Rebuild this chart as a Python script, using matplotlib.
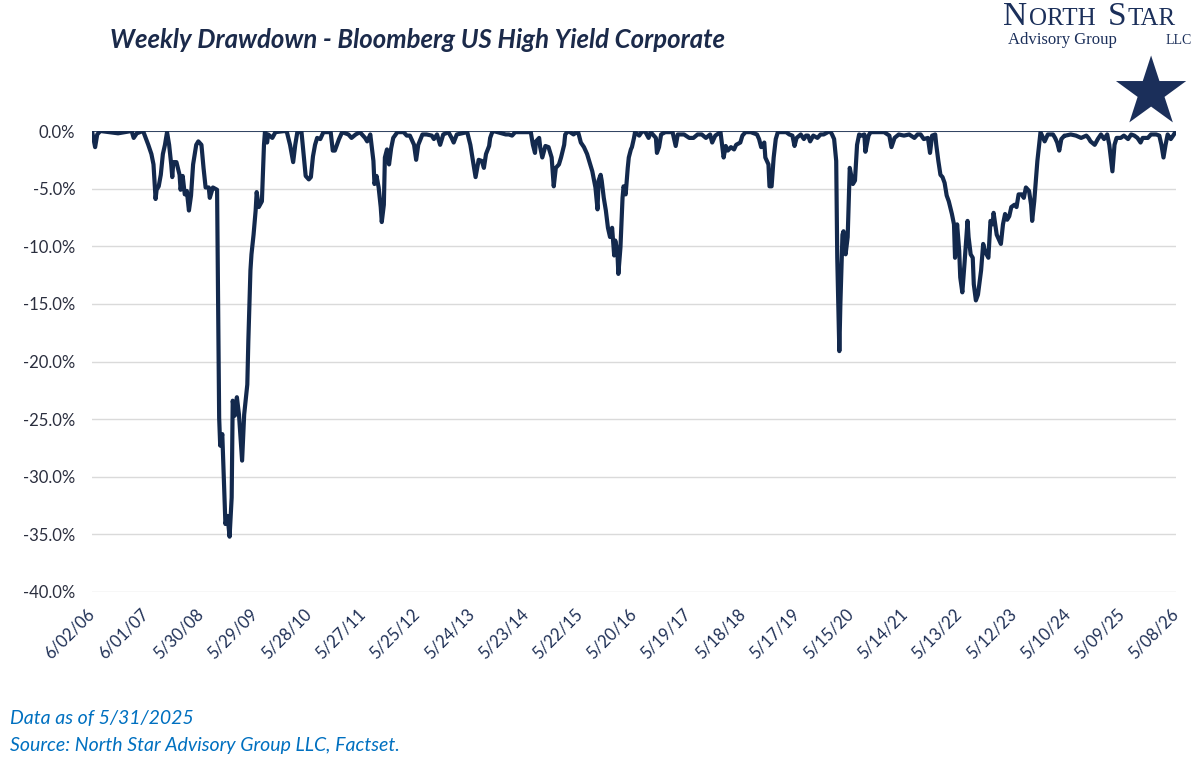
import matplotlib
matplotlib.use("Agg")
import matplotlib.pyplot as plt
from matplotlib.ticker import FixedLocator

# ---- data (week index from 6/02/06, drawdown %) ----
weeks = [0, 3, 5, 8, 25, 38, 40, 43, 49, 54, 57, 59, 61, 62, 64, 66, 68, 70, 72, 74,
         76, 77, 78, 81, 84, 85, 87, 89, 91, 93, 95, 97, 100, 102, 105, 107, 109, 112, 113, 116,
         120, 122, 123, 125, 128, 130, 132, 134, 135, 137, 139, 141, 144, 146, 149, 150, 152, 153, 155, 157,
         158, 160, 163, 165, 166, 168, 169, 173, 176, 185, 187, 190, 193, 195, 197, 201, 205, 208, 210, 212,
         214, 216, 219, 222, 229, 231, 233, 237, 240, 246, 249, 253, 257, 262, 264, 267, 270, 271, 273, 275,
         277, 278, 280, 281, 283, 285, 287, 289, 293, 299, 302, 305, 309, 311, 313, 317, 321, 326, 328, 331,
         334, 337, 342, 345, 347, 350, 360, 363, 366, 368, 371, 374, 376, 378, 381, 382, 384, 385, 397, 400,
         403, 406, 421, 423, 425, 426, 429, 430, 432, 435, 438, 441, 443, 445, 448, 450, 453, 454, 457, 462,
         466, 467, 469, 472, 475, 478, 480, 483, 485, 486, 488, 489, 491, 493, 495, 497, 499, 501, 502, 504,
         505, 507, 509, 510, 512, 514, 515, 517, 518, 520, 521, 525, 528, 531, 534, 536, 541, 542, 544, 546,
         550, 557, 560, 562, 568, 573, 577, 581, 585, 589, 593, 595, 598, 603, 606, 608, 610, 613, 616, 618,
         622, 624, 627, 632, 638, 640, 642, 645, 646, 649, 650, 652, 654, 656, 658, 666, 669, 672, 674, 676,
         680, 683, 685, 687, 689, 692, 696, 699, 702, 706, 708, 710, 712, 714, 715, 717, 718, 720, 721, 723,
         725, 727, 730, 732, 734, 736, 738, 741, 742, 745, 747, 755, 760, 765, 767, 770, 774, 779, 784, 789,
         792, 795, 798, 802, 804, 806, 809, 810, 812, 814, 816, 818, 820, 822, 825, 827, 828, 830, 832, 833,
         835, 837, 840, 841, 843, 845, 846, 848, 850, 853, 855, 857, 860, 862, 864, 865, 868, 870, 872, 874,
         876, 878, 880, 882, 885, 887, 889, 892, 894, 896, 899, 901, 902, 904, 906, 907, 909, 910, 914, 917,
         922, 924, 926, 928, 930, 933, 934, 939, 944, 949, 954, 956, 958, 962, 965, 968, 971, 974, 976, 979,
         981, 983, 987, 990, 994, 997, 1000, 1003, 1006, 1008, 1013, 1016, 1021, 1024, 1026, 1028, 1030, 1032, 1034, 1035,
         1038, 1040]

drawdown = [0.0, -1.4, -0.3, 0.0, -0.2, 0.0, -0.6, -0.2, 0.0, -1.2, -2.0, -2.9, -5.9, -5.1, -4.8, -3.8, -2.0, -1.2, -0.1, -1.2,
            -2.9, -4.0, -2.7, -2.7, -3.8, -5.1, -3.9, -5.5, -5.2, -6.9, -5.6, -2.9, -1.2, -0.9, -1.2, -3.2, -4.9, -4.9, -5.8, -4.9,
            -5.1, -24.9, -27.3, -26.3, -34.1, -33.4, -35.2, -31.8, -23.4, -24.7, -23.1, -24.6, -28.6, -24.6, -22.0, -18.2, -12.1, -10.7, -9.0, -6.9,
            -5.3, -6.6, -6.1, -1.2, 0.0, -1.0, -0.3, -0.6, -0.1, 0.0, -0.1, -1.2, -2.7, -1.2, -0.1, -0.1, -3.9, -4.2, -4.0, -2.2,
            -1.2, -0.6, -0.7, -0.1, -0.1, -1.7, -1.7, -0.7, -0.1, -0.3, -0.6, -0.3, -0.1, -0.6, -0.9, -0.3, -2.6, -4.6, -3.9, -4.9,
            -6.6, -7.9, -6.4, -2.3, -1.6, -2.9, -1.5, -0.6, -0.1, -0.1, -0.4, -0.4, -1.2, -2.5, -1.2, -0.3, -0.3, -0.4, -0.7, -0.3,
            -1.2, -0.3, -0.1, -0.6, -1.0, -0.3, -0.1, -1.2, -2.9, -4.0, -2.5, -2.6, -3.2, -2.0, -1.3, -0.6, -0.1, 0.0, -0.3, -0.3,
            -0.4, -0.1, -0.1, -1.2, -1.9, -0.9, -0.6, -1.4, -2.3, -1.3, -1.4, -2.3, -4.8, -3.2, -2.9, -2.3, -1.2, -0.3, 0.0, -0.3,
            0.0, -0.3, -1.0, -1.4, -2.0, -2.9, -3.5, -4.9, -6.8, -4.3, -3.8, -4.3, -5.8, -6.9, -8.4, -9.2, -8.4, -10.8, -9.5, -10.4,
            -12.4, -10.1, -5.8, -4.8, -5.5, -3.2, -2.3, -1.6, -1.4, -0.6, -0.1, -0.4, 0.0, -0.1, -0.6, -0.1, -0.6, -1.9, -1.4, -0.3,
            -0.1, -0.1, -1.3, -0.3, -0.3, -0.6, -0.6, -0.3, -0.3, -0.6, -0.3, -1.0, -0.4, -0.1, -2.3, -1.3, -1.7, -1.4, -1.6, -1.2,
            -1.0, -0.4, -0.1, -0.1, -0.3, -0.7, -1.4, -1.0, -2.3, -2.9, -4.8, -4.8, -2.3, -0.7, -0.1, -0.1, -0.3, -0.4, -1.3, -0.6,
            -0.3, -0.7, -0.4, -0.4, -0.9, -0.4, -0.6, -0.3, -0.3, -0.1, 0.0, -0.3, -0.7, -2.6, -11.0, -19.1, -15.0, -9.0, -8.7, -10.7,
            -9.2, -3.2, -4.6, -4.3, -1.2, -0.3, -0.4, -0.3, -1.8, -0.4, -0.1, -0.1, -0.1, -0.4, -1.4, -0.6, -0.3, -0.4, -0.3, -0.6,
            -0.3, -0.3, -0.7, -0.6, -1.9, -0.4, -0.3, -1.2, -2.6, -3.8, -4.0, -4.5, -5.6, -6.1, -7.2, -8.1, -11.0, -8.1, -10.4, -12.7,
            -14.0, -11.6, -7.8, -9.2, -10.7, -11.0, -13.3, -14.7, -14.2, -12.1, -9.8, -10.5, -11.0, -7.8, -8.1, -7.1, -9.0, -9.4, -9.8, -8.1,
            -7.2, -7.7, -7.4, -6.6, -6.4, -6.6, -5.5, -5.5, -5.8, -4.9, -5.2, -6.4, -7.8, -6.1, -3.8, -2.6, -0.9, -0.1, -0.9, -0.3,
            -0.3, -0.6, -1.0, -1.7, -0.7, -0.4, -0.4, -0.3, -0.4, -0.6, -0.4, -0.6, -0.9, -1.2, -0.7, -0.3, -0.7, -0.3, -1.2, -3.5,
            -1.2, -0.6, -0.6, -0.4, -0.7, -0.3, -0.4, -0.6, -1.0, -0.6, -0.6, -0.3, -0.3, -0.4, -1.2, -2.3, -1.2, -0.3, -0.6, -0.7,
            -0.3, 0.0]

tick_labels = ["6/02/06", "6/01/07", "5/30/08", "5/29/09", "5/28/10", "5/27/11", "5/25/12",
               "5/24/13", "5/23/14", "5/22/15", "5/20/16", "5/19/17", "5/18/18", "5/17/19",
               "5/15/20", "5/14/21", "5/13/22", "5/12/23", "5/10/24", "5/09/25", "5/08/26"]
y_ticks = [0, -5, -10, -15, -20, -25, -30, -35, -40]

title = "Weekly Drawdown - Bloomberg US High Yield Corporate"
note1 = "Data as of 5/31/2025"
note2 = "Source: North Star Advisory Group LLC, Factset."

NAVY = "#13294D"
LOGO = "#1B2F5A"
plt.rcParams["font.family"] = ["Lato", "DejaVu Sans"]

fig = plt.figure(figsize=(12, 7.65), dpi=100)
ax = fig.add_axes([92 / 1200, 1 - 592 / 765, (1176 - 92) / 1200, (592 - 131) / 765])

ax.plot(weeks, drawdown, color=NAVY, lw=3.0, solid_joinstyle="round", zorder=3)
ax.axhline(0, color=NAVY, lw=1.2, zorder=4)

ax.set_xlim(0, 1040)
ax.set_ylim(-40, 0)
ax.set_yticks(y_ticks)
ax.set_yticklabels([f"{v:.1f}%" for v in y_ticks], fontsize=12, color="#2A2E3E")
ax.xaxis.set_major_locator(FixedLocator([52 * i for i in range(len(tick_labels))]))
ax.set_xticklabels(tick_labels, rotation=45, ha="right", va="center", rotation_mode="anchor",
                   fontsize=12, color="#1E2F55")
ax.tick_params(axis="both", length=0)
ax.tick_params(axis="x", pad=14)
ax.tick_params(axis="y", pad=12)
ax.grid(axis="y", color="#DADADA", lw=1)
ax.set_axisbelow(True)
for s in ax.spines.values():
    s.set_visible(False)

fig.text(110 / 1200, 1 - 40 / 765, title, fontsize=18.5, fontweight="bold", fontstyle="italic",
         color="#1B2A4A", va="center", ha="left")
fig.text(10 / 1200, 1 - 718 / 765, note1, fontsize=14, fontstyle="italic", color="#0070C0", va="center")
fig.text(10 / 1200, 1 - 746 / 765, note2, fontsize=14, fontstyle="italic", color="#0070C0", va="center")

# logo
fig.text(1003 / 1200, 1 - 17 / 765, "N", fontsize=24, family="Liberation Serif", color=LOGO, va="center")
fig.text(1029 / 1200, 1 - 19 / 765, "ORTH", fontsize=18, family="Liberation Serif", color=LOGO, va="center")
fig.text(1108 / 1200, 1 - 17 / 765, "S", fontsize=24, family="Liberation Serif", color=LOGO, va="center")
fig.text(1128 / 1200, 1 - 19 / 765, "TAR", fontsize=18, family="Liberation Serif", color=LOGO, va="center")
fig.text(1008 / 1200, 1 - 40 / 765, "Advisory Group", fontsize=12, family="Liberation Serif", color=LOGO, va="center")
fig.text(1192 / 1200, 1 - 40 / 765, "LLC", fontsize=10, family="Liberation Serif", color=LOGO, va="center", ha="right")
fig.text(1150 / 1200, 1 - 96 / 765, "\u2605", fontsize=66, family="DejaVu Sans", color=LOGO,
         va="center", ha="center")

fig.savefig("out.png", dpi=100)
